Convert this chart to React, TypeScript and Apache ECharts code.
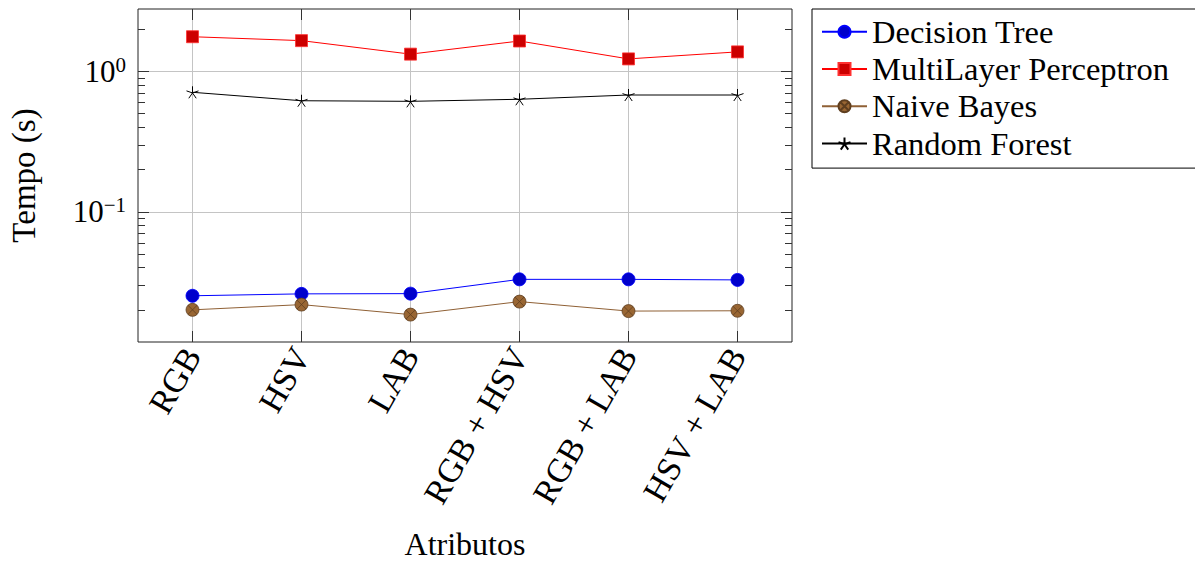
import React, { useEffect, useRef } from 'react';
import * as echarts from 'echarts';

const categories = ['RGB', 'HSV', 'LAB', 'RGB + HSV', 'RGB + LAB', 'HSV + LAB'];
const decisionTree = [0.0252, 0.026, 0.0261, 0.033, 0.033, 0.0327];
const multiLayerPerceptron = [1.77, 1.66, 1.33, 1.65, 1.23, 1.38];
const naiveBayes = [0.02, 0.0218, 0.0185, 0.0229, 0.0196, 0.0197];
const randomForest = [0.711, 0.619, 0.613, 0.634, 0.68, 0.68];
const majorTickValues = [0.1, 1];
const minorTickValues = [
  0.02, 0.03, 0.04, 0.05, 0.06, 0.07, 0.08, 0.09,
  0.2, 0.3, 0.4, 0.5, 0.6, 0.7, 0.8, 0.9, 2,
];
const yMin = 0.0118;
const yMax = 2.79;

const FONT = 'Liberation Serif';
const STAR = 'path://M0,-10L0,0M9.51,-3.09L0,0M5.88,8.09L0,0M-5.88,8.09L0,0M-9.51,-3.09L0,0';
const OTIMES = 'path://M0,10A10,10,0,1,1,20,10A10,10,0,1,1,0,10ZM2.93,2.93L17.07,17.07M17.07,2.93L2.93,17.07';

export default function App() {
  const ref = useRef<HTMLDivElement>(null);
  useEffect(() => {
    if (!ref.current) return;
    const chart = echarts.init(ref.current, null, { renderer: 'svg' });
    const tickColor = '#333';
    const yBase = (position: string, ticks: number[], len: number, labels: boolean, split: boolean) => ({
      type: 'log',
      gridIndex: 0,
      position,
      min: yMin,
      max: yMax,
      axisLine: { show: false },
      axisTick: { show: true, inside: true, length: len, customValues: ticks, lineStyle: { color: tickColor, width: 1 } },
      axisLabel: labels
        ? {
            show: true,
            customValues: majorTickValues,
            margin: 12,
            formatter: (v: number) => {
              const e = Math.round(Math.log10(v));
              return `{b|10}{s|${e < 0 ? '\u2212' + -e : e}}`;
            },
            rich: {
              b: { fontFamily: FONT, fontSize: 31, lineHeight: 31, color: '#000' },
              s: { fontFamily: FONT, fontSize: 21, lineHeight: 21, color: '#000', padding: [0, 0, 13, 0] },
            },
          }
        : { show: false },
      splitLine: split ? { show: true, lineStyle: { color: '#c4c4c4', width: 1 } } : { show: false },
    });
    const option: any = {
      animation: false,
      grid: {
        left: 138, top: 9, width: 654, height: 333,
        outerBoundsMode: 'none', containLabel: false,
        show: true, borderColor: '#222', borderWidth: 1, backgroundColor: 'transparent',
      },
      legend: {
        orient: 'vertical',
        left: 812,
        top: 9,
        padding: [6.2, 300, 8, 9],
        itemWidth: 45,
        itemHeight: 15,
        itemGap: 4.3,
        backgroundColor: '#fff',
        borderColor: '#000',
        borderWidth: 1,
        borderRadius: 0,
        textStyle: { fontFamily: FONT, fontSize: 32.5, color: '#000' },
        data: ['Decision Tree', 'MultiLayer Perceptron', 'Naive Bayes', 'Random Forest'],
      },
      xAxis: [
        {
          type: 'category',
          data: categories,
          position: 'bottom',
          boundaryGap: true,
          name: 'Atributos',
          nameLocation: 'middle',
          nameGap: 202,
          nameTextStyle: { fontFamily: FONT, fontSize: 32, lineHeight: 32, color: '#000', verticalAlign: 'middle' },
          axisLine: { show: false },
          axisTick: { show: true, inside: true, alignWithLabel: true, interval: 0, length: 11, lineStyle: { color: tickColor } },
          axisLabel: { interval: 0, rotate: 60, margin: 8, fontFamily: FONT, fontSize: 34, color: '#000' },
          splitLine: { show: true, alignWithLabel: true, interval: 0, lineStyle: { color: '#c4c4c4', width: 1 } },
        },
        {
          type: 'category',
          data: categories,
          position: 'top',
          boundaryGap: true,
          axisLine: { show: false },
          axisTick: { show: true, inside: true, alignWithLabel: true, interval: 0, length: 11, lineStyle: { color: tickColor } },
          axisLabel: { show: false },
          splitLine: { show: false },
        },
      ],
      yAxis: [
        {
          ...yBase('left', majorTickValues, 11, true, true),
          name: 'Tempo (s)',
          nameLocation: 'middle',
          nameGap: 98,
          nameRotate: 90,
          nameTextStyle: { fontFamily: FONT, fontSize: 33, color: '#000' },
        },
        yBase('right', majorTickValues, 11, false, false),
        yBase('left', minorTickValues, 7, false, false),
        yBase('right', minorTickValues, 7, false, false),
      ],
      series: [
        {
          name: 'Decision Tree',
          type: 'line',
          data: decisionTree,
          symbol: 'circle',
          symbolSize: 13,
          lineStyle: { color: '#0000ff', width: 1 },
          itemStyle: { color: '#0000cc', borderColor: '#0000ff', borderWidth: 0.8 },
        },
        {
          name: 'MultiLayer Perceptron',
          type: 'line',
          data: multiLayerPerceptron,
          symbol: 'rect',
          symbolSize: 12,
          lineStyle: { color: '#ff0000', width: 1 },
          itemStyle: { color: '#cc0000', borderColor: '#ff3030', borderWidth: 0.8 },
        },
        {
          name: 'Naive Bayes',
          type: 'line',
          data: naiveBayes,
          symbol: OTIMES,
          symbolSize: 13,
          lineStyle: { color: '#8f6035', width: 1 },
          itemStyle: { color: '#996633', borderColor: '#5e3e1f', borderWidth: 0.8 },
        },
        {
          name: 'Random Forest',
          type: 'line',
          data: randomForest,
          symbol: STAR,
          symbolSize: 12,
          lineStyle: { color: '#000', width: 1 },
          itemStyle: { color: '#000', borderColor: '#000', borderWidth: 1 },
        },
      ],
    };
    chart.setOption(option);
    return () => chart.dispose();
  }, []);
  return <div ref={ref} style={{ position: 'fixed', left: 0, top: 0, width: 1195, height: 564, background: '#fff' }} />;
}
